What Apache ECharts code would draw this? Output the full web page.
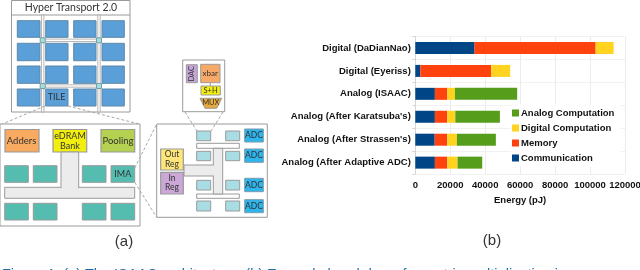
<!DOCTYPE html>
<html>
<head>
<meta charset="utf-8">
<style>html,body{margin:0;padding:0;background:#fff;overflow:hidden}#c{width:640px;height:270px}</style>
<script src="https://cdn.jsdelivr.net/npm/echarts@6/dist/echarts.min.js"></script>
</head>
<body>
<div id="c"></div>
<script>
// ---- chart data (pJ) ----
const categories = ['Digital (DaDianNao)','Digital (Eyeriss)','Analog (ISAAC)',"Analog (After Karatsuba's)","Analog (After Strassen's)",'Analog (After Adaptive ADC)'];
const communication = [33900, 2900, 11200, 11200, 11100, 11200];
const memory = [69300, 40500, 7100, 7100, 7200, 7100];
const digitalComputation = [10300, 10900, 4400, 4600, 5500, 5900];
const analogComputation = [0, 0, 35600, 25500, 22300, 14100];
const legendOrder = ['Analog Computation','Digital Computation','Memory','Communication'];

// ---- schematic (a): drawn as plain shapes, not data ----
const G = [];
const edge = '#9a9a9a';
const diagramFont = 'Lato, "Open Sans", sans-serif';
function box(x0,y0,x1,y1,fill,stroke,w){
  G.push({type:'rect',shape:{x:x0,y:y0,width:x1-x0,height:y1-y0},style:{fill:fill,stroke:stroke||edge,lineWidth:w===undefined?1:w}});
}
function label(x,y,t,size,rot){
  G.push({type:'text',x:x,y:y,rotation:rot||0,style:{text:t,fill:'#333',font:(size||9)+'px '+diagramFont,align:'center',verticalAlign:'middle',lineHeight:(size||9)+1}});
}
function dash(x0,y0,x1,y1){
  G.push({type:'line',shape:{x1:x0,y1:y0,x2:x1,y2:y1},style:{stroke:'#a8a8a8',lineWidth:1,lineDash:[3,2]}});
}
// chip
box(11.5,0.5,130,112,'#fff');
G.push({type:'line',shape:{x1:11.5,y1:15,x2:130,y2:15},style:{stroke:edge,lineWidth:1}});
label(71,8,'Hyper Transport 2.0',10.5);
[42.7,99].forEach(x=>box(x-1.2,15,x+1.2,112,'#fff','#a5a5a5',0.8));
[40.3,86].forEach(y=>box(42.7,y-1.2,99,y+1.2,'#fff','#a5a5a5',0.8));
const tileX=[[17.3,40],[45.7,68],[73.7,96],[102,124.3]], tileY=[[20.7,37.3],[43.3,60.7],[66,83.3],[89,106]];
tileY.forEach(r=>tileX.forEach(c=>box(c[0],r[0],c[1],r[1],'#5a9fd8','#5d88a8')));
[[42.7,40.3],[99,40.3],[42.7,86],[99,86]].forEach(p=>box(p[0]-2.5,p[1]-2.5,p[0]+2.5,p[1]+2.5,'#a6dde0','#6f9ea6'));
label(56.5,97.5,'TILE',9);
dash(45,106,0,125); dash(68,106,139,124);
// tile
box(0,124,140,226,'#fff');
box(5,129.5,39,152,'#f7aa60',edge,1.2); label(21.5,141,'Adders',9.5);
box(53,129.5,86.7,152,'#f2ee10',edge,1.2); label(70,141,'eDRAM\nBank',9);
box(101,129.5,134.7,152,'#b5d152',edge,1.2); label(118,141,'Pooling',9.5);
[[4.7,28.3],[33.3,57],[82.3,106],[111,134.7]].forEach(c=>{
  box(c[0],165.7,c[1],182.3,'#55bdb0',edge);
  box(c[0],203.3,c[1],220,'#55bdb0',edge);
});
label(122.8,174.2,'IMA',9);
box(4.7,187.3,134.7,198.3,'#ececec',edge);
box(61,152,78.7,187.8,'#ececec',edge);
G.push({type:'rect',shape:{x:61.6,y:186,width:16.5,height:3},style:{fill:'#ececec'}});
// IMA
box(156.7,124,267.3,217.3,'#fff');
dash(134.7,168,156.7,124); dash(134.7,182.3,156.7,217.3);
[[131,140.7],[151.3,160.7],[180.3,190],[201,211]].forEach(r=>{
  box(196.7,r[0],210.7,r[1],'#a8dde3',edge);
  box(225.7,r[0],239.7,r[1],'#a8dde3',edge);
});
[[129,142],[149,162.3],[178.3,191.7],[199.7,212.7]].forEach(r=>{
  box(244.7,r[0],263.3,r[1],'#2db5ec','#7a9aaa');
  label(254,(r[0]+r[1])/2,'ADC',8.5);
});
box(196.7,143.3,239.3,148.3,'#fff',edge);
box(196.7,194,239.3,198.3,'#fff',edge);
box(184,165,214,176,'#ececec',edge);
box(213.3,148.3,222.7,194,'#ececec',edge);
G.push({type:'rect',shape:{x:212,y:165.6,width:2.5,height:9.8},style:{fill:'#ececec'}});
box(160.7,149,183.3,170,'#ffe67a',edge,1.2); label(172,159.5,'Out\nReg',8.5);
box(160.7,172.3,183.3,194,'#cba8d8',edge,1.2); label(172,183,'In\nReg',8.5);
// crossbar detail
box(182.7,60,224.7,111.7,'#fff');
dash(185,112,197,131); dash(223,112,211,131);
box(186.3,64.7,197.3,82.7,'#c3a5d6',edge); label(191.8,73.7,'DAC',7.5,Math.PI/2);
box(200.7,64.3,220,82.7,'#f7aa68',edge); label(210.3,73.5,'xbar',8);
G.push({type:'line',shape:{x1:210.3,y1:82.7,x2:210.3,y2:86},style:{stroke:edge}});
box(201,86,220.3,95,'#f2ee10',edge); label(210.6,90.6,'S+H',7.5);
G.push({type:'polygon',shape:{points:[[200,98.3],[221.7,98.3],[216.7,108.3],[205,108.3]]},style:{fill:'#e8a93c',stroke:edge}});
label(210.8,103,'MUX',7.5);
// panel labels + caption
function panel(x,y,t){G.push({type:'text',x:x,y:y,style:{text:t,fill:'#333',font:'15px "Liberation Sans", Arial, sans-serif',align:'center',verticalAlign:'middle'}});}
panel(124,241.5,'(a)');
panel(492,241,'(b)');
G.push({type:'text',x:2,y:267,style:{text:'Figure 1: (a) The ISAAC architecture. (b) Example breakdown for matrix multiplication in',fill:'#1f6fa8',font:'14.5px "Liberation Sans", Arial, sans-serif',align:'left',verticalAlign:'top'}});

// ---- chart (b) ----
const font = '"Liberation Sans", Arial, sans-serif';
const names = ['Communication','Memory','Digital Computation','Analog Computation'];
const values = [communication, memory, digitalComputation, analogComputation];
const colors = ['#004586','#ff420e','#ffd320','#579d1c'];

const chart = echarts.init(document.getElementById('c'), null, {renderer:'canvas'});
chart.setOption({
  animation:false,
  backgroundColor:'#fff',
  graphic:{elements:G},
  grid:{left:415.3,top:36.5,width:209.7,height:137.6,containLabel:false,outerBoundsMode:'none'},
  legend:{
    data:legendOrder, orient:'vertical', left:511, top:104.5,
    icon:'rect', itemWidth:7, itemHeight:7, itemGap:4, padding:[3,6,3,1],
    backgroundColor:'#fff', z:10,
    textStyle:{color:'#111',fontFamily:font,fontWeight:'bold',fontSize:9.5,lineHeight:11,padding:[0,0,0,-3]}
  },
  xAxis:{
    type:'value', min:0, max:120000, interval:20000,
    name:'Energy (pJ)', nameLocation:'middle', nameGap:21.5,
    nameTextStyle:{color:'#111',fontFamily:font,fontWeight:'bold',fontSize:9.5},
    axisLine:{show:false}, axisTick:{show:false},
    splitLine:{show:true,lineStyle:{color:'#ececec',width:1}},
    axisLabel:{color:'#111',fontFamily:font,fontWeight:'bold',fontSize:9.5,margin:6,hideOverlap:false,
      showMaxLabel:true,formatter:function(v){return String(v);}}
  },
  yAxis:{
    type:'category', data:categories, inverse:true,
    axisLine:{show:true,lineStyle:{color:'#d4d4d4'}},
    axisTick:{show:true,length:3,lineStyle:{color:'#d4d4d4'}},
    splitLine:{show:true,lineStyle:{color:'#f1f1f1'}},
    axisLabel:{color:'#111',fontFamily:font,fontWeight:'bold',fontSize:9.5,margin:4.5}
  },
  series:names.map((n,i)=>({
    name:n, type:'bar', stack:'e', barWidth:12,
    itemStyle:{color:colors[i]},
    data:values[i]
  }))
});
</script>
</body>
</html>
